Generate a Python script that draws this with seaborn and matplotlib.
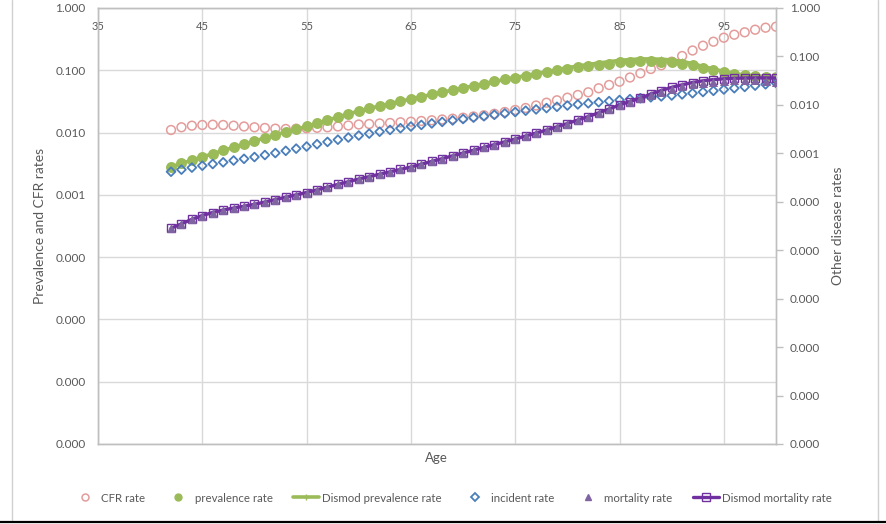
import numpy as np
import pandas as pd
import matplotlib
matplotlib.use("Agg")
import matplotlib.pyplot as plt
from matplotlib.lines import Line2D
from matplotlib.ticker import FixedLocator, FuncFormatter, NullLocator
import seaborn as sns

# ---- data -------------------------------------------------------------
age = list(range(42, 101))

cfr_rate = [0.01100, 0.01216, 0.01290, 0.01323, 0.01338, 0.01323, 0.01290, 0.01252, 0.01216, 0.01185,
            0.01155, 0.01142, 0.01155, 0.01171, 0.01193, 0.01216, 0.01252, 0.01299, 0.01348, 0.01373,
            0.01399, 0.01425, 0.01462, 0.01495, 0.01534, 0.01574, 0.01622, 0.01670, 0.01733, 0.01811,
            0.01894, 0.02002, 0.02140, 0.02304, 0.02480, 0.02721, 0.03017, 0.03298, 0.03631, 0.04012,
            0.04432, 0.05139, 0.05804, 0.06558, 0.07659, 0.08947, 0.1049, 0.1203, 0.1374, 0.1696,
            0.2078, 0.2481, 0.2877, 0.3336, 0.3727, 0.4073, 0.4483, 0.4828, 0.5008]

prevalence_rate = [0.002802, 0.003189, 0.003602, 0.004055, 0.004564, 0.005157, 0.005803, 0.006508, 0.007324, 0.008184,
                   0.009145, 0.01022, 0.01133, 0.01252, 0.01409, 0.01580, 0.01779, 0.01987, 0.02220, 0.02435,
                   0.02671, 0.02918, 0.03178, 0.03460, 0.03767, 0.04087, 0.04432, 0.04808, 0.05195, 0.05636,
                   0.06114, 0.06607, 0.07114, 0.07659, 0.08217, 0.08816, 0.09422, 0.1003, 0.1068, 0.1125,
                   0.1181, 0.1234, 0.1285, 0.1334, 0.1364, 0.1384, 0.1384, 0.1369, 0.1334, 0.1276,
                   0.1194, 0.1096, 0.1011, 0.09284, 0.08719, 0.08250, 0.08009, 0.07862, 0.07719]

dismod_prevalence = [0.002802, 0.003189, 0.003602, 0.004055, 0.004564, 0.005157, 0.005803, 0.006508, 0.007324, 0.008184,
                     0.009145, 0.01022, 0.01133, 0.01252, 0.01409, 0.01580, 0.01779, 0.01987, 0.02220, 0.02435,
                     0.02671, 0.02918, 0.03178, 0.03460, 0.03767, 0.04087, 0.04432, 0.04808, 0.05195, 0.05636,
                     0.06114, 0.06607, 0.07114, 0.07659, 0.08217, 0.08816, 0.09422, 0.1023, 0.1100, 0.1170,
                     0.1240, 0.1308, 0.1375, 0.1441, 0.1487, 0.1522, 0.1522, 0.1506, 0.1467, 0.1391,
                     0.1278, 0.1151, 0.1051, 0.0956, 0.0889, 0.0833, 0.0809, 0.0794, 0.0780]

incident_rate = [0.0004174, 0.0004612, 0.0005073, 0.0005552, 0.0006019, 0.0006526, 0.0007108, 0.0007705, 0.0008395, 0.0009233,
                 0.001015, 0.001127, 0.001251, 0.001383, 0.001543, 0.001721, 0.001911, 0.002121, 0.002333, 0.002554,
                 0.002795, 0.003045, 0.003300, 0.003578, 0.003861, 0.004146, 0.004453, 0.004782, 0.005110, 0.005462,
                 0.005837, 0.006239, 0.006668, 0.007129, 0.007584, 0.008067, 0.008581, 0.009129, 0.009710, 0.01023,
                 0.01078, 0.01136, 0.01197, 0.01261, 0.01316, 0.01373, 0.01434, 0.01496, 0.01562, 0.01646,
                 0.01742, 0.01845, 0.01953, 0.02077, 0.02210, 0.02350, 0.02500, 0.02660, 0.02829]

mortality_rate = [2.832e-5, 3.508e-5, 4.343e-5, 5.204e-5, 6.002e-5, 6.758e-5, 7.432e-5, 8.096e-5, 8.863e-5, 9.888e-5,
                  0.0001113, 0.0001242, 0.0001392, 0.0001553, 0.0001765, 0.0002008, 0.0002283, 0.0002595, 0.0002951, 0.0003307,
                  0.0003707, 0.0004154, 0.0004657, 0.0005219, 0.0005963, 0.0006812, 0.0007780, 0.0008888, 0.001015, 0.001160,
                  0.001325, 0.001514, 0.001729, 0.001975, 0.002279, 0.002628, 0.003030, 0.003527, 0.004126, 0.004873,
                  0.005756, 0.006865, 0.008222, 0.009945, 0.01174, 0.01373, 0.01600, 0.01871, 0.02179, 0.02430,
                  0.02660, 0.02857, 0.03023, 0.03157, 0.03233, 0.03263, 0.03233, 0.03187, 0.03038]

dismod_mortality = [2.832e-5, 3.508e-5, 4.343e-5, 5.204e-5, 6.002e-5, 6.758e-5, 7.432e-5, 8.096e-5, 8.863e-5, 9.888e-5,
                    0.0001113, 0.0001242, 0.0001392, 0.0001553, 0.0001765, 0.0002008, 0.0002283, 0.0002595, 0.0002951, 0.0003307,
                    0.0003707, 0.0004154, 0.0004657, 0.0005219, 0.0005963, 0.0006812, 0.0007780, 0.0008888, 0.001015, 0.001160,
                    0.001325, 0.001514, 0.001729, 0.001975, 0.002279, 0.002628, 0.003030, 0.003527, 0.004126, 0.004873,
                    0.005756, 0.006865, 0.008222, 0.009945, 0.01174, 0.01373, 0.01677, 0.01981, 0.02306, 0.02597,
                    0.02897, 0.03143, 0.03327, 0.03456, 0.03539, 0.03590, 0.03607, 0.03607, 0.03590]

x_ticks = [35, 45, 55, 65, 75, 85, 95]
left_ticks = [1, 0.1, 0.01, 0.001, 1e-4, 1e-5, 1e-6, 1e-7]
right_ticks = [1, 0.1, 0.01, 0.001, 1e-4, 1e-5, 1e-6, 1e-7, 1e-8, 1e-9]

# ---- style ------------------------------------------------------------
sns.set_style("white")
plt.rcParams["font.family"] = ["Lato", "DejaVu Sans"]

C_CFR = "#E39C9A"
C_PREV = "#9BBB59"
C_INC = "#4A7EBB"
C_MORT = "#8064A2"
C_DMORT = "#7030A0"
C_GRID = "#D9D9D9"
C_AXIS = "#BFBFBF"
C_TEXT = "#595959"

df = pd.DataFrame({
    "age": age, "cfr": cfr_rate, "prev": prevalence_rate, "dprev": dismod_prevalence,
    "inc": incident_rate, "mort": mortality_rate, "dmort": dismod_mortality,
})

fig = plt.figure(figsize=(8.86, 5.24), dpi=100)
ax = fig.add_axes([98 / 886, 1 - 444 / 524, (776 - 98) / 886, (444 - 8) / 524])
ax2 = ax.twinx()

# primary axis: prevalence and CFR
ax.set_yscale("log")
ax.set_ylim(1e-7, 1)
ax.set_xlim(35, 100)

ax.yaxis.set_major_locator(FixedLocator(left_ticks))
ax.yaxis.set_minor_locator(NullLocator())
ax.yaxis.set_major_formatter(FuncFormatter(lambda v, p: f"{v:.3f}"))
ax.xaxis.set_major_locator(FixedLocator(x_ticks))
ax.grid(True, which="major", color=C_GRID, linewidth=1.0)
ax.set_axisbelow(True)

# secondary axis: other disease rates
ax2.set_yscale("log")
ax2.set_ylim(1e-9, 1)
ax2.yaxis.set_major_locator(FixedLocator(right_ticks))
ax2.yaxis.set_minor_locator(NullLocator())
ax2.yaxis.set_major_formatter(FuncFormatter(lambda v, p: f"{v:.3f}"))
ax2.grid(False)

sns.scatterplot(data=df, x="age", y="cfr", ax=ax, marker="o", s=40,
                facecolor="none", edgecolor=C_CFR, linewidth=1.1, zorder=3, legend=False)
# Dismod prevalence: thick line under the observed circles, small crosses on top
sns.lineplot(data=df, x="age", y="dprev", ax=ax, color=C_PREV, linewidth=2.6,
             zorder=3, legend=False)
sns.scatterplot(data=df, x="age", y="prev", ax=ax, marker="o", s=62,
                color=C_PREV, edgecolor=C_PREV, linewidth=0, zorder=4, legend=False)
sns.scatterplot(data=df, x="age", y="dprev", ax=ax, marker="+", s=14,
                color=C_PREV, linewidth=0.9, zorder=5, legend=False)

sns.scatterplot(data=df, x="age", y="inc", ax=ax2, marker="D", s=20,
                facecolor="none", edgecolor=C_INC, linewidth=1.3, zorder=3, legend=False)
sns.lineplot(data=df, x="age", y="dmort", ax=ax2, color=C_DMORT, linewidth=2.4,
             marker="s", markersize=6.2, markerfacecolor="none", markeredgecolor=C_DMORT,
             markeredgewidth=1.0, zorder=4, legend=False)
sns.scatterplot(data=df, x="age", y="mort", ax=ax2, marker="^", s=42,
                color=C_MORT, edgecolor=C_MORT, linewidth=0, zorder=5, legend=False)

# axis cosmetics
for a in (ax, ax2):
    for s in a.spines.values():
        s.set_color(C_AXIS)
        s.set_linewidth(1.0)
    a.set_xlabel("")
    a.set_ylabel("")

ax.xaxis.tick_top()
ax.tick_params(axis="x", which="both", top=True, bottom=False, labeltop=True, labelbottom=False,
               length=0, pad=-17, labelsize=8, labelcolor=C_TEXT)
ax.tick_params(axis="y", length=0, pad=9, labelsize=8.5, labelcolor=C_TEXT)
ax2.tick_params(axis="y", which="major", length=5, width=1, color=C_AXIS, direction="out",
                pad=5, labelsize=8.5, labelcolor=C_TEXT)
ax2.tick_params(axis="x", length=0)

fig.text(40 / 886, 1 - 226 / 524, "Prevalence and CFR rates", rotation=90, ha="center", va="center",
         fontsize=10, color=C_TEXT)
fig.text(838 / 886, 1 - 226 / 524, "Other disease rates", rotation=90, ha="center", va="center",
         fontsize=10, color=C_TEXT)
fig.text(436 / 886, 1 - 458 / 524, "Age", ha="center", va="center", fontsize=9.5, color=C_TEXT)

handles = [
    Line2D([], [], linestyle="none", marker="o", markersize=5, markerfacecolor="none",
           markeredgecolor=C_CFR, markeredgewidth=1.1),
    Line2D([], [], linestyle="none", marker="o", markersize=5, color=C_PREV),
    Line2D([], [], color=C_PREV, linewidth=2.6, marker="+", markersize=5, markeredgewidth=1.0),
    Line2D([], [], linestyle="none", marker="D", markersize=3.8, markerfacecolor="none",
           markeredgecolor=C_INC, markeredgewidth=1.3),
    Line2D([], [], linestyle="none", marker="^", markersize=5, color=C_MORT),
    Line2D([], [], color=C_DMORT, linewidth=2.4, marker="s", markersize=5.5,
           markerfacecolor="none", markeredgecolor=C_DMORT),
]
labels = ["CFR rate", "prevalence rate", "Dismod prevalence rate", "incident rate",
          "mortality rate", "Dismod mortality rate"]
leg = fig.legend(handles, labels, loc="center", bbox_to_anchor=(452 / 886, 1 - 498 / 524), ncol=6,
                 frameon=False, fontsize=8.3, handlelength=2.2, handletextpad=0.3, columnspacing=1.8,
                 labelcolor=C_TEXT)

# chart frame
fig.add_artist(Line2D([12 / 886, 12 / 886], [1 - 520 / 524, 1], color="#D0D0D0", linewidth=1.0))
fig.add_artist(Line2D([878 / 886, 878 / 886], [1 - 520 / 524, 1], color="#D0D0D0", linewidth=1.0))
fig.add_artist(Line2D([0, 1], [1 - 521.5 / 524, 1 - 521.5 / 524], color="black", linewidth=1.6))

fig.savefig("out.png", dpi=100)
